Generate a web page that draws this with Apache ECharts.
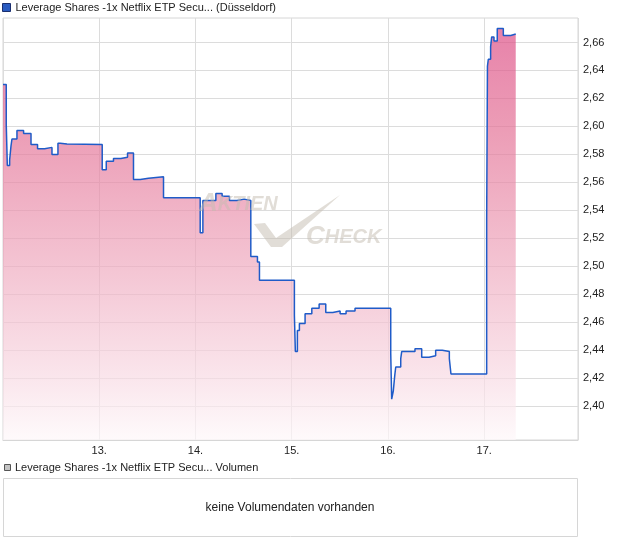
<!DOCTYPE html>
<html><head><meta charset="utf-8">
<script src="https://cdn.jsdelivr.net/npm/echarts@6/dist/echarts.min.js"></script>
<style>html,body{margin:0;padding:0;background:#fff}#c{width:620px;height:546px}</style>
</head><body><div id="c"></div>
<script>
const seriesName = 'Leverage Shares -1x Netflix ETP Secu... (Düsseldorf)';
const volumeName = 'Leverage Shares -1x Netflix ETP Secu... Volumen';
const noVolumeText = 'keine Volumendaten vorhanden';
// time as day-of-month (fractional), price in EUR
const times = [12.0, 12.034, 12.045, 12.069, 12.083, 12.093, 12.145, 12.214, 12.291, 12.359, 12.432, 12.509, 12.571, 12.595, 12.665,
  13.031, 13.073, 13.148, 13.225, 13.294, 13.356, 13.426, 13.512, 13.668,
  14.049, 14.077, 14.212, 14.277, 14.353, 14.430, 14.506, 14.575, 14.644, 14.665,
  15.028, 15.038, 15.059, 15.080, 15.139, 15.209, 15.285, 15.354, 15.427, 15.503, 15.565, 15.658,
  16.029, 16.039, 16.056, 16.071, 16.081, 16.133, 16.143, 16.212, 16.281, 16.351, 16.427, 16.496, 16.565, 16.638, 16.655,
  17.026, 17.034, 17.043, 17.067, 17.078, 17.102, 17.136, 17.199, 17.276, 17.328];
const prices = [2.630, 2.601, 2.572, 2.576, 2.586, 2.591, 2.597, 2.595, 2.587, 2.584, 2.585, 2.580, 2.588, 2.5875, 2.587,
  2.569, 2.575, 2.577, 2.578, 2.581, 2.562, 2.563, 2.564, 2.549,
  2.524, 2.547, 2.552, 2.550, 2.547, 2.548, 2.547, 2.507, 2.503, 2.490,
  2.465, 2.439, 2.454, 2.459, 2.466, 2.470, 2.473, 2.467, 2.468, 2.466, 2.468, 2.470,
  2.438, 2.405, 2.411, 2.422, 2.428, 2.434, 2.439, 2.439, 2.441, 2.435, 2.436, 2.440, 2.439, 2.434, 2.423,
  2.533, 2.643, 2.648, 2.657, 2.664, 2.661, 2.670, 2.665, 2.666, 2.666];
const yTicks = [2.40, 2.42, 2.44, 2.46, 2.48, 2.50, 2.52, 2.54, 2.56, 2.58, 2.60, 2.62, 2.64, 2.66];
const xTicks = [13, 14, 15, 16, 17];

const FONT = '"Liberation Sans", Arial, sans-serif';
const WM = 'rgba(196,188,176,0.5)';
const chart = echarts.init(document.getElementById('c'), null, {renderer: 'canvas'});
chart.setOption({
  animation: false,
  backgroundColor: '#fff',
  textStyle: {fontFamily: FONT},
  legend: {
    left: 2, top: 2, itemWidth: 8, itemHeight: 8, itemGap: 5, padding: 0,
    icon: 'rect',
    textStyle: {fontSize: 11, color: '#222', fontFamily: FONT},
    itemStyle: {color: '#2a5bc0', borderColor: '#1b2f6e', borderWidth: 1},
    data: [seriesName]
  },
  grid: {left: 3, right: 42, top: 18, height: 422, show: true, borderColor: '#d6d6d6', borderWidth: 1, containLabel: false},
  xAxis: {
    type: 'value', min: 12, max: 17.975, interval: 1,
    axisLine: {show: true, lineStyle: {color: '#d6d6d6'}},
    axisTick: {show: false},
    axisLabel: {fontSize: 11, color: '#222', margin: 5, fontFamily: FONT,
      formatter: v => xTicks.includes(v) ? v + '.' : ''},
    splitLine: {show: true, lineStyle: {color: '#dcdcdc', width: 1}}
  },
  yAxis: {
    type: 'value', position: 'right', min: 2.3758, max: 2.6775, scale: true,
    axisLine: {show: false},
    axisTick: {show: false, customValues: yTicks},
    axisLabel: {fontSize: 11, color: '#222', margin: 5, fontFamily: FONT, customValues: yTicks,
      formatter: v => v.toFixed(2).replace('.', ',')},
    splitLine: {show: true, lineStyle: {color: '#dcdcdc', width: 1}}
  },
  series: [{
    name: seriesName, type: 'line', step: 'end', symbol: 'none',
    data: times.map((t, i) => [t, prices[i]]),
    lineStyle: {color: '#1f5bc8', width: 1.5},
    itemStyle: {color: '#2a5bc0'},
    areaStyle: {
      origin: 'start',
      color: new echarts.graphic.LinearGradient(0, 0, 0, 1, [
        {offset: 0, color: '#dd4d85'},
        {offset: 0.25, color: '#e47397'},
        {offset: 0.55, color: '#eea6bc'},
        {offset: 0.85, color: '#f8dbe4'},
        {offset: 1, color: '#fef8fa'}
      ])
    },
    z: 3
  }],
  graphic: [
    {type: 'text', left: 199, top: 191, z: 10, silent: true,
      style: {text: '{b|A}{s|KTIEN}', fill: WM,
        rich: {b: {fontSize: 26, fontStyle: 'italic', fontWeight: 'bold', fontFamily: FONT, fill: WM},
               s: {fontSize: 20, fontStyle: 'italic', fontWeight: 'bold', fontFamily: FONT, fill: WM}}}},
    {type: 'text', left: 306, top: 224, z: 10, silent: true,
      style: {text: '{b|C}{s|HECK}', fill: WM,
        rich: {b: {fontSize: 26, fontStyle: 'italic', fontWeight: 'bold', fontFamily: FONT, fill: WM},
               s: {fontSize: 20, fontStyle: 'italic', fontWeight: 'bold', fontFamily: FONT, fill: WM}}}},
    {type: 'polygon', z: 10, silent: true,
      shape: {points: [[254, 224], [265, 223], [276, 238], [340, 195], [282, 247], [271, 247]]},
      style: {fill: WM}},
    {type: 'rect', z: 5, silent: true, shape: {x: 4.5, y: 464.5, width: 6, height: 6},
      style: {fill: '#c4c4c4', stroke: '#555', lineWidth: 1}},
    {type: 'text', z: 5, silent: true, left: 15, top: 462,
      style: {text: volumeName, fontSize: 11, fill: '#222', fontFamily: FONT}},
    {type: 'rect', z: 5, silent: true, shape: {x: 3.5, y: 478.5, width: 574, height: 58},
      style: {fill: 'none', stroke: '#d6d6d6', lineWidth: 1}},
    {type: 'text', z: 5, silent: true, x: 290, y: 508,
      style: {text: noVolumeText, fontSize: 12, fill: '#222', fontFamily: FONT, align: 'center', verticalAlign: 'middle'}}
  ]
});
</script></body></html>
